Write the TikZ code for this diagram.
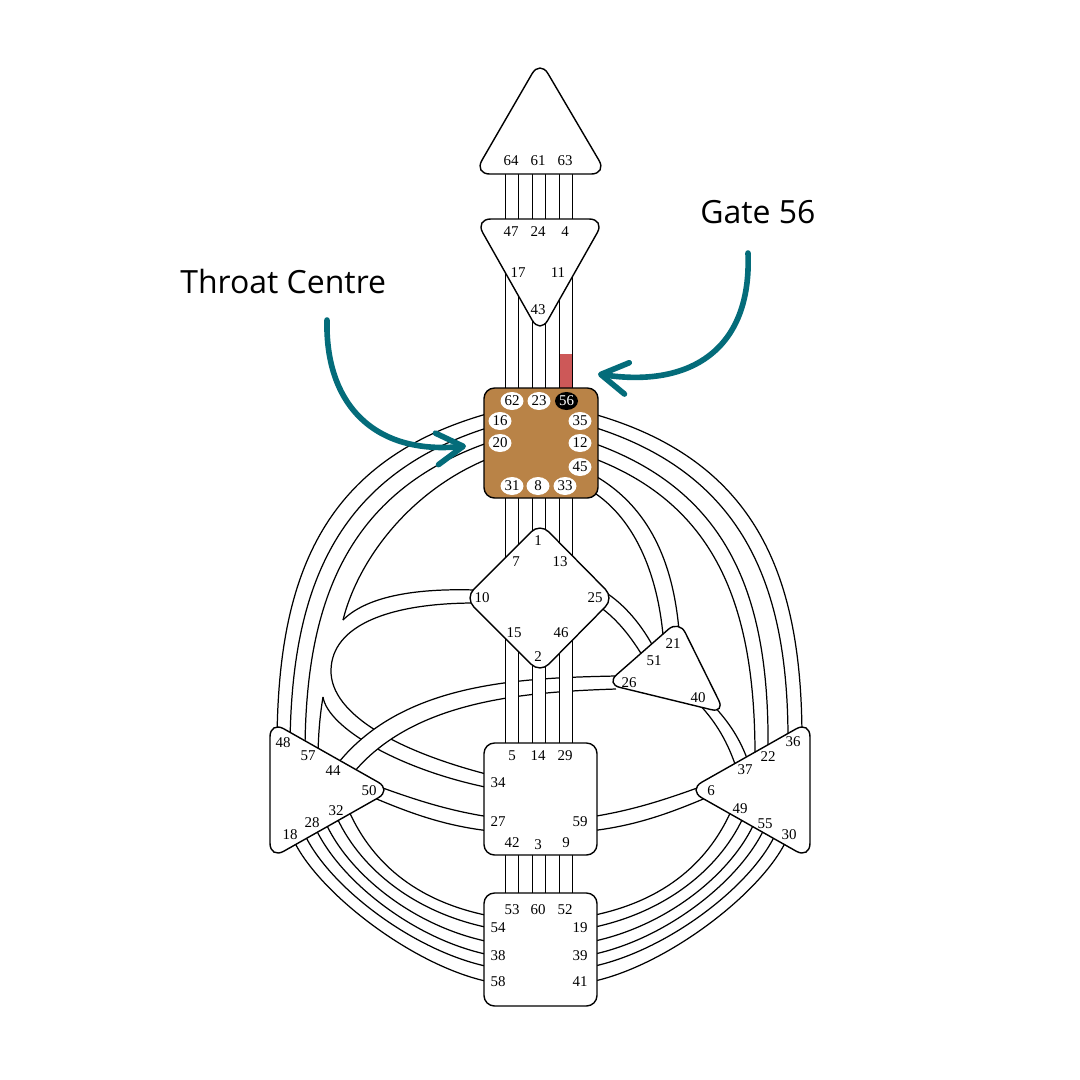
\documentclass[tikz,border=0pt]{standalone}
\usepackage{fontspec}
\setmainfont{Liberation Serif}
\newfontfamily\annfont{Open Sans}
\usepackage{tikz}
\usetikzlibrary{arrows.meta,shapes.geometric}
\definecolor{throatbrown}{RGB}{185,131,71}
\definecolor{gatered}{RGB}{205,88,88}
\definecolor{noteteal}{RGB}{4,108,122}

\begin{document}
\begin{tikzpicture}[
    x=0.02cm, y=-0.02cm,
    chan/.style={line width=0.7pt},
    centre/.style={draw, line width=0.8pt, fill=white, rounded corners=9pt},
    gate/.style={font=\fontsize{8.5}{8.5}\selectfont, inner sep=0pt},
    tgate/.style={ellipse, fill=white, minimum width=0.46cm, minimum height=0.36cm,
                  inner sep=0pt, font=\fontsize{8.5}{8.5}\selectfont},
    note/.style={font=\annfont\fontsize{18.2}{20}\selectfont, inner sep=0pt, anchor=base west},
    pointer/.style={draw=noteteal, line width=3.2pt, line cap=round,
                    -{Straight Barb[length=15pt,width=18pt,round]}}
]
\useasboundingbox (0,0) rectangle (1080,1080);
\fill[white] (0,0) rectangle (1080,1080);

% --- Left arcs: throat -> spleen, G 10 loop, sacral 34 ---
\draw[chan] (490,413) .. controls (320,460) and (278,580) .. (277,742);
\draw[chan] (490,427) .. controls (335,475) and (291,590) .. (290,747);
\draw[chan] (490,442) .. controls (345,492) and (305,605) .. (305,754);
\draw[chan] (490,458) .. controls (410,490) and (358,560) .. (343,620);
\draw[chan] (475,590) .. controls (410,588) and (365,598) .. (343,620);
\draw[chan] (475,603) .. controls (390,603) and (332,625) .. (331,670)
                      .. controls (330,715) and (400,752) .. (490,775);
\draw[chan] (323,697) .. controls (328,728) and (400,770) .. (490,788);
\draw[chan] (323,697) .. controls (320,715) and (318,735) .. (318,762);

% --- Right arcs: throat -> solar plexus, throat -> heart ---
\draw[chan] (590,413) .. controls (760,460) and (802,580) .. (802,740);
\draw[chan] (590,426) .. controls (747,474) and (789,590) .. (788,745);
\draw[chan] (590,442) .. controls (735,492) and (770,605) .. (768,754);
\draw[chan] (590,457) .. controls (720,505) and (756,612) .. (755,762);
\draw[chan] (590,473) .. controls (650,505) and (676,565) .. (680,645);
\draw[chan] (590,490) .. controls (636,518) and (660,578) .. (664,648);

% --- G 25 -> heart 51, heart 40 -> SP 37 ---
\draw[chan] (605,592) .. controls (625,605) and (642,625) .. (655,650);
\draw[chan] (600,607) .. controls (618,620) and (632,638) .. (645,660);
\draw[chan] (708,700) .. controls (726,718) and (740,737) .. (749,764);
\draw[chan] (698,703) .. controls (716,722) and (728,742) .. (737,770);

% --- Spleen 50 -> sacral 27, SP 6 -> sacral 59 ---
\draw[chan] (372,784) .. controls (415,800) and (450,811) .. (490,817);
\draw[chan] (372,797) .. controls (412,814) and (446,826) .. (490,831);
\draw[chan] (708,784) .. controls (665,800) and (630,811) .. (590,817);
\draw[chan] (708,797) .. controls (668,814) and (634,826) .. (590,831);

% --- Spleen and SP -> root ---
\foreach \sx/\ey in {295/982, 306/967, 317/955, 327/942, 338/928, 350/916} {
  \pgfmathsetmacro\sy{855-(\sx-269)*0.546}
  \draw[chan] (\sx-3,\sy-4) .. controls (\sx+20,\sy+50) and (414,\ey-15) .. (490,\ey);
  \draw[chan] (1083-\sx,\sy-4) .. controls (1060-\sx,\sy+50) and (666,\ey-15) .. (590,\ey);
}

% --- Heart 26 -> spleen 44 ---
\fill[white] (616,676) .. controls (520,678) and (400,682) .. (335,767) -- (350,777)
             .. controls (410,700) and (525,692) .. (616,689) -- cycle;
\draw[chan] (616,676) .. controls (520,678) and (400,682) .. (335,767);
\draw[chan] (616,689) .. controls (525,692) and (410,700) .. (350,777);

% --- Vertical channels ---
\foreach \x in {505.4,532.4,559.4}
  \fill[white] (\x,640) rectangle (\x+13.2,745);
\fill[gatered] (559.4,354) rectangle (572.6,392);
\foreach \x in {505.4,518.6,532.4,545.6,559.4,572.6} {
  \draw[chan] (\x,165) -- (\x,225);
  \draw[chan] (\x,255) -- (\x,392);
  \draw[chan] (\x,494) -- (\x,565);
  \draw[chan] (\x,630) -- (\x,748);
  \draw[chan] (\x,850) -- (\x,898);
}

% --- Centres ---
\draw[centre] (540,60) -- (607,174) -- (474,174) -- cycle;
\draw[centre] (475,219) -- (605,219) -- (540,334) -- cycle;
\draw[centre, fill=throatbrown, rounded corners=6pt] (484,388) rectangle (598,498);
\draw[centre, rounded corners=7pt] (540,523) -- (614,598) -- (540,673) -- (465,598) -- cycle;
\draw[centre, rounded corners=8pt] (679,620) -- (725,713) -- (606,684) -- cycle;
\draw[centre] (270,721) -- (392,790) -- (270,859) -- cycle;
\draw[centre] (810,721) -- (688,790) -- (810,859) -- cycle;
\draw[centre, rounded corners=6pt] (484,743) rectangle (597,855);
\draw[centre, rounded corners=6pt] (484,893) rectangle (597,1006);

% --- Throat gates ---
\foreach \g/\x/\y in {62/512/401, 23/539/401, 16/500/421, 20/500/443, 35/580/421,
                      12/580/443, 45/580/467, 31/512/486, 8/538/486, 33/565/486}
  \node[tgate] (t\g) at (\x,\y) {\g};
\node[tgate, fill=black, text=white] (t56) at (566.5,401) {56};

% --- Gate numbers ---
\foreach \g/\x/\y in {64/511/161, 61/538/161, 63/565/161,
                      47/511/232, 24/538/232, 4/565/232, 17/518/273, 11/558/273, 43/538/310,
                      1/538/541, 7/516/562, 13/560/562, 10/482/598, 25/595/598,
                      15/514/633, 46/561/633, 2/538/657,
                      21/673/644, 51/654/661, 26/629/683, 40/698/698,
                      48/283/743, 57/308/756, 44/333/771, 50/369/791, 32/336/811, 28/312/823, 18/290/835,
                      36/793/742, 22/768/757, 37/745/770, 6/711/791, 49/740/809, 55/765/824, 30/789/835,
                      5/512/756, 14/538/756, 29/565/756, 34/498/783, 27/498/822, 59/580/822,
                      42/512/843, 3/538/845, 9/566/843,
                      53/512/910, 60/538/910, 52/565/910, 54/498/928, 19/580/928,
                      38/498/956, 39/580/956, 58/498/982, 41/580/982}
  \node[gate] (g\g) at (\x,\y) {\g};

% --- Notes ---
\node[note] (throatnote) at (180,293) {Throat Centre};
\node[note] (gatenote) at (700,223) {Gate 56};
\coordinate (throattail) at (327,320);
\coordinate (throattip) at (466,446);
\coordinate (gatetail) at (748,253);
\coordinate (gatetip) at (598,374);
\draw[pointer] (throattail) .. controls (325,405) and (375,455) .. (throattip);
\draw[pointer] (gatetail) .. controls (752,350) and (690,388) .. (gatetip);
\end{tikzpicture}
\end{document}
